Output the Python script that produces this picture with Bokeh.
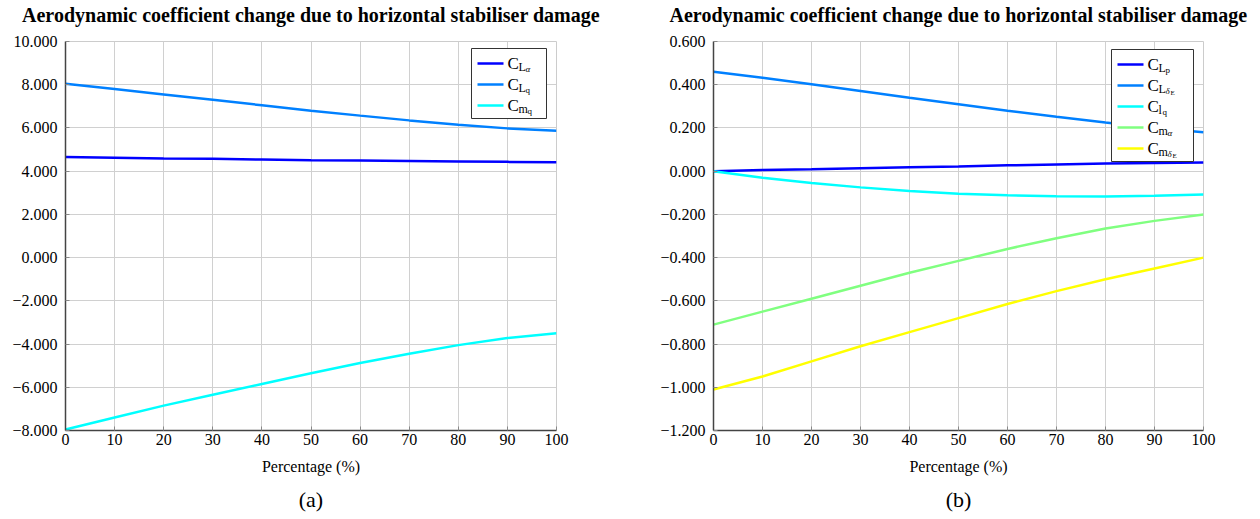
from bokeh.plotting import figure
from bokeh.layouts import row
from bokeh.models import FixedTicker, CustomJSTickFormatter, Label, Range1d, LinearAxis
from bokeh.embed import file_html
from bokeh.resources import INLINE

# ---------------- data ----------------
pct = [0, 10, 20, 30, 40, 50, 60, 70, 80, 90, 100]

# panel (a)
a_CL_alpha = [4.65, 4.62, 4.59, 4.57, 4.54, 4.51, 4.49, 4.47, 4.45, 4.43, 4.41]
a_CL_q = [8.05, 7.80, 7.55, 7.30, 7.05, 6.80, 6.57, 6.35, 6.15, 5.98, 5.87]
a_Cm_q = [-7.95, -7.40, -6.85, -6.35, -5.85, -5.35, -4.88, -4.45, -4.05, -3.72, -3.50]

# panel (b)
b_CL_p = [0.000, 0.005, 0.009, 0.014, 0.018, 0.022, 0.027, 0.031, 0.035, 0.038, 0.040]
b_CL_dE = [0.460, 0.432, 0.402, 0.371, 0.340, 0.310, 0.280, 0.252, 0.225, 0.200, 0.180]
b_Cl_q = [0.000, -0.030, -0.055, -0.075, -0.092, -0.104, -0.112, -0.116, -0.117, -0.114, -0.108]
b_Cm_alpha = [-0.710, -0.650, -0.590, -0.530, -0.470, -0.415, -0.360, -0.310, -0.265, -0.230, -0.200]
b_Cm_dE = [-1.010, -0.950, -0.880, -0.810, -0.745, -0.680, -0.615, -0.555, -0.500, -0.450, -0.400]

x_ticks = [0, 10, 20, 30, 40, 50, 60, 70, 80, 90, 100]
a_y_ticks = [-8, -6, -4, -2, 0, 2, 4, 6, 8, 10]
b_y_ticks = [-1.2, -1.0, -0.8, -0.6, -0.4, -0.2, 0.0, 0.2, 0.4, 0.6]

title_text = "Aerodynamic coefficient change due to horizontal stabiliser damage"
x_label = "Percentage (%)"

JET = ["#0000ff", "#0080ff", "#00ffff", "#80ff80", "#ffff00"]
SERIF = "'Liberation Serif', serif"

fmt = CustomJSTickFormatter(code="return (tick < -1e-9 ? '\u2212' : '') + Math.abs(tick).toFixed(3);")


def converters(p, fw, fh):
    xs, xe = p.x_range.start, p.x_range.end
    ys, ye = p.y_range.start, p.y_range.end

    def dx(px):
        return xs + px / fw * (xe - xs)

    def dy(py):
        return ye - py / fh * (ye - ys)
    return dx, dy


def text_axis(label, size, style, standoff):
    ax = LinearAxis(ticker=FixedTicker(ticks=[]), axis_label=label, axis_line_color=None,
                    major_tick_line_color=None, minor_tick_line_color=None,
                    major_label_text_font_size="0px", axis_label_standoff=standoff)
    ax.axis_label_text_font = SERIF
    ax.axis_label_text_font_size = size
    ax.axis_label_text_font_style = style
    ax.axis_label_text_color = "black"
    return ax


def make_fig(yr, yticks, fw, fh, bl, br, caption):
    p = figure(frame_width=fw, frame_height=fh, x_range=Range1d(0, 100), y_range=Range1d(*yr),
               output_backend="svg", toolbar_location=None,
               min_border_left=bl, min_border_right=br, min_border_top=41, min_border_bottom=89)
    p.background_fill_color = "white"
    p.border_fill_color = "white"
    p.outline_line_color = "#cccccc"
    p.xaxis.ticker = FixedTicker(ticks=x_ticks)
    p.yaxis.ticker = FixedTicker(ticks=yticks)
    p.yaxis.formatter = fmt
    p.xaxis.axis_label = x_label
    for ax in (p.xaxis[0], p.yaxis[0]):
        ax.axis_line_color = "#444444"
        ax.axis_line_width = 1.5
        ax.major_tick_in = 4
        ax.major_tick_out = 0
        ax.major_tick_line_color = "#888888"
        ax.minor_tick_line_color = None
        ax.major_label_text_font = SERIF
        ax.major_label_text_font_size = "16px"
        ax.major_label_text_color = "black"
        ax.axis_label_text_font = SERIF
        ax.axis_label_text_font_size = "16px"
        ax.axis_label_text_font_style = "normal"
        ax.axis_label_text_color = "black"
    p.xaxis.major_label_standoff = 3
    p.yaxis.major_label_standoff = 8
    p.xaxis.axis_label_standoff = 10
    p.xgrid.ticker = FixedTicker(ticks=x_ticks)
    p.ygrid.ticker = FixedTicker(ticks=yticks)
    p.grid.grid_line_color = "#d0d0d0"
    p.grid.grid_line_width = 1

    p.add_layout(text_axis(title_text, "20px", "bold", 16), "above")
    p.add_layout(text_axis(caption, "22px", "normal", 9), "below")
    return p


def add_legend(p, fw, fh, box, entries):
    dx, dy = converters(p, fw, fh)
    l, t, r, b = box
    p.quad(left=dx(l), right=dx(r), top=dy(t), bottom=dy(b), fill_color="white",
           line_color="#333333", line_width=1)
    for i, (color, parts) in enumerate(entries):
        cy = t + 15 + i * 21
        p.line([dx(l + 6), dx(l + 32)], [dy(cy), dy(cy)], color=color, line_width=2.5)
        for text, size, xo, yo, style in parts:
            p.add_layout(Label(x=dx(l + 36 + xo), y=dy(cy + yo), text=text, text_font=SERIF,
                               text_font_size=f"{size}px", text_font_style=style,
                               text_baseline="alphabetic", text_align="left", text_color="black"))


# ---------------- panel (a) ----------------
FWA, FH = 491, 389
pa = make_fig((-8, 10), a_y_ticks, FWA, FH, 65, 84, "(a)")
for ys_, c in zip([a_CL_alpha, a_CL_q, a_Cm_q], JET[:3]):
    pa.line(pct, ys_, color=c, line_width=2.5)
add_legend(pa, FWA, FH, (406, 7, 481, 77), [
    (JET[0], [("C", 17, 0, 0, "normal"), ("L", 12, 11, 3, "normal"), ("α", 9, 18, 5, "italic")]),
    (JET[1], [("C", 17, 0, 0, "normal"), ("L", 12, 11, 3, "normal"), ("q", 9, 18, 5, "normal")]),
    (JET[2], [("C", 17, 0, 0, "normal"), ("m", 12, 11, 3, "normal"), ("q", 9, 20, 5, "normal")]),
])

# ---------------- panel (b) ----------------
FWB = 490
pb = make_fig((-1.2, 0.6), b_y_ticks, FWB, FH, 73, 57, "(b)")
for ys_, c in zip([b_CL_p, b_CL_dE, b_Cl_q, b_Cm_alpha, b_Cm_dE], JET):
    pb.line(pct, ys_, color=c, line_width=2.5)
add_legend(pb, FWB, FH, (398, 8, 480, 120), [
    (JET[0], [("C", 17, 0, 0, "normal"), ("L", 12, 11, 3, "normal"), ("p", 9, 18, 5, "normal")]),
    (JET[1], [("C", 17, 0, 0, "normal"), ("L", 12, 11, 3, "normal"), ("δ", 9, 18, 5, "italic"),
              ("E", 7, 23, 7, "normal")]),
    (JET[2], [("C", 17, 0, 0, "normal"), ("l", 12, 11, 3, "normal"), ("q", 9, 15, 5, "normal")]),
    (JET[3], [("C", 17, 0, 0, "normal"), ("m", 12, 11, 3, "normal"), ("α", 9, 20, 5, "italic")]),
    (JET[4], [("C", 17, 0, 0, "normal"), ("m", 12, 11, 3, "normal"), ("δ", 9, 20, 5, "italic"),
              ("E", 7, 25, 7, "normal")]),
])

layout = row(pa, pb, spacing=0)
open("out.html", "w").write(file_html(layout, INLINE))
